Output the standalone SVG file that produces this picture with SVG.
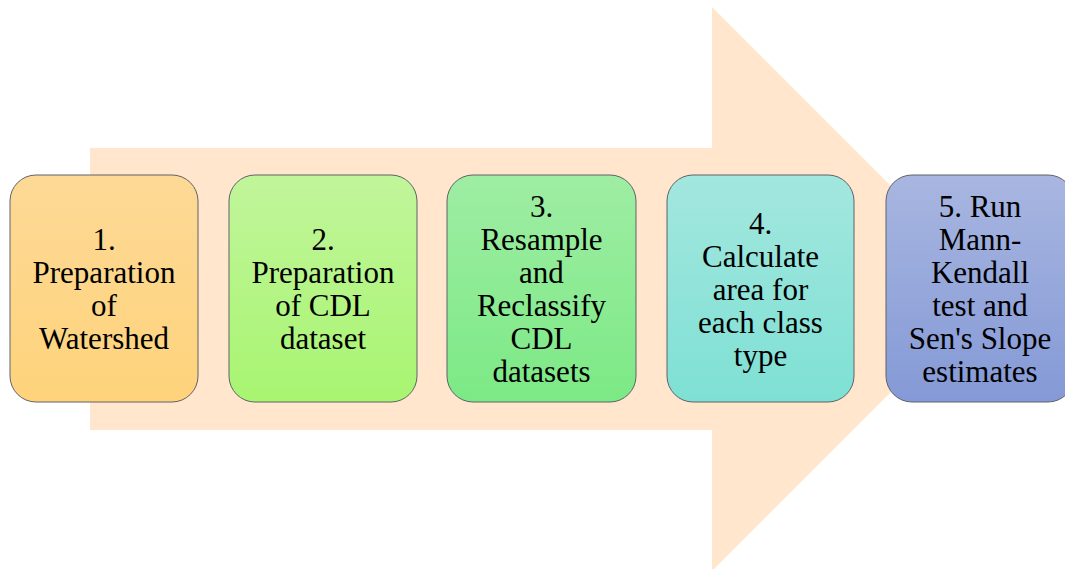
<svg xmlns="http://www.w3.org/2000/svg" width="1065" height="569" viewBox="0 0 1065 569">
  <style>
    .step { stroke: #5f6368; stroke-width: 1; }
    .label { font-family: 'Liberation Serif', 'DejaVu Serif', serif; font-size: 31px; fill: #000; text-anchor: middle; }
  </style>
  <defs>
    <linearGradient id="g1" x1="0" y1="0" x2="0" y2="1">
      <stop offset="0" stop-color="#FDD996"/>
      <stop offset="1" stop-color="#FED37B"/>
    </linearGradient>
    <linearGradient id="g2" x1="0" y1="0" x2="0" y2="1">
      <stop offset="0" stop-color="#C1F59B"/>
      <stop offset="1" stop-color="#A8F571"/>
    </linearGradient>
    <linearGradient id="g3" x1="0" y1="0" x2="0" y2="1">
      <stop offset="0" stop-color="#9EEDA3"/>
      <stop offset="1" stop-color="#7CE985"/>
    </linearGradient>
    <linearGradient id="g4" x1="0" y1="0" x2="0" y2="1">
      <stop offset="0" stop-color="#A3E7DF"/>
      <stop offset="1" stop-color="#7EE0D4"/>
    </linearGradient>
    <linearGradient id="g5" x1="0" y1="0" x2="0" y2="1">
      <stop offset="0" stop-color="#A8B6E0"/>
      <stop offset="1" stop-color="#8499D6"/>
    </linearGradient>
  </defs>

  <!-- background block arrow -->
  <g id="connectors">
    <polygon points="90,148 712,148 712,7 994,289 712,571 712,430 90,430" fill="#FFE6CC"/>
  </g>

  <g font-family="'Liberation Serif', 'DejaVu Serif', serif">
  <g id="step1">
    <rect class="step" x="10" y="175" width="188" height="227" rx="26" fill="url(#g1)"/>
    <text class="label" x="104" y="250">1.</text>
    <text class="label" x="104" y="283">Preparation</text>
    <text class="label" x="104" y="316">of</text>
    <text class="label" x="104" y="349">Watershed</text>
  </g>

  <g id="step2">
    <rect class="step" x="229" y="175" width="188" height="227" rx="26" fill="url(#g2)"/>
    <text class="label" x="323" y="250">2.</text>
    <text class="label" x="323" y="283">Preparation</text>
    <text class="label" x="323" y="316">of CDL</text>
    <text class="label" x="323" y="349">dataset</text>
  </g>

  <g id="step3">
    <rect class="step" x="447" y="175" width="189" height="227" rx="26" fill="url(#g3)"/>
    <text class="label" x="541.5" y="217">3.</text>
    <text class="label" x="541.5" y="250">Resample</text>
    <text class="label" x="541.5" y="283">and</text>
    <text class="label" x="541.5" y="316">Reclassify</text>
    <text class="label" x="541.5" y="349">CDL</text>
    <text class="label" x="541.5" y="382">datasets</text>
  </g>

  <g id="step4">
    <rect class="step" x="667" y="175" width="187" height="227" rx="26" fill="url(#g4)"/>
    <text class="label" x="760.5" y="233.5">4.</text>
    <text class="label" x="760.5" y="266.5">Calculate</text>
    <text class="label" x="760.5" y="299.5">area for</text>
    <text class="label" x="760.5" y="332.5">each class</text>
    <text class="label" x="760.5" y="365.5">type</text>
  </g>

  <g id="step5">
    <rect class="step" x="886" y="175" width="188" height="227" rx="26" fill="url(#g5)"/>
    <text class="label" x="980" y="217">5. Run</text>
    <text class="label" x="980" y="250">Mann-</text>
    <text class="label" x="980" y="283">Kendall</text>
    <text class="label" x="980" y="316">test and</text>
    <text class="label" x="980" y="349">Sen's Slope</text>
    <text class="label" x="980" y="382">estimates</text>
  </g>
  </g>
</svg>
